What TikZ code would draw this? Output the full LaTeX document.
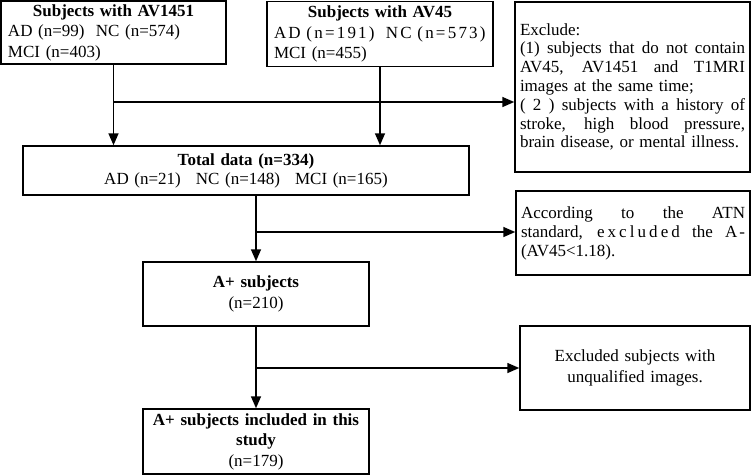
\documentclass[tikz,border=0pt]{standalone}
\usepackage{fontspec}
\setmainfont{Liberation Serif}
\newfontfamily\spacedA[LetterSpace=13]{Liberation Serif}
\newfontfamily\spacedB[LetterSpace=18]{Liberation Serif}
\usetikzlibrary{arrows.meta}
\newcommand\fullline[1]{{\spaceskip=0pt\xspaceskip=0pt\makebox[\linewidth][s]{#1}}}
\begin{document}
\begin{tikzpicture}[x=1pt,y=-1pt,
  box/.style={draw,line width=1.5pt,inner xsep=7pt,inner ysep=0pt,
    font=\fontsize{17}{20.5}\selectfont},
  arr/.style={line width=1.6pt,-{Triangle[length=12pt,width=10pt]}},
  ln/.style={line width=1.6pt}]
\useasboundingbox (0,0) rectangle (751,475);

\node[box,text width=211pt,minimum height=63pt,align=left] (av1451) at (113.5,32.5)
  {\makebox[\linewidth][c]{\bfseries Subjects with AV1451}\\AD (n=99)\ \ NC (n=574)\\MCI (n=403)};
\node[box,text width=212pt,minimum height=65pt,align=left] (av45) at (380,34)
  {\makebox[\linewidth][c]{\bfseries Subjects with AV45}\\{\spacedA AD (n=191)\ \ NC (n=573)}\\MCI (n=455)};
\node[box,inner xsep=5pt,text width=225pt,minimum height=170pt,align=left,
  font=\fontsize{17}{18.8}\selectfont] (excl) at (632.5,87)
  {Exclude:\\
   \fullline{(1) subjects that do not contain}\\
   \fullline{AV45, AV1451 and T1MRI}\\
   images at the same time;\\
   \fullline{( 2 ) subjects with a history of}\\
   \fullline{stroke, high blood pressure,}\\
   brain disease, or mental illness.};
\node[box,text width=432pt,minimum height=49pt,align=center,
  font=\fontsize{17}{19}\selectfont] (total) at (246,170.5)
  {{\bfseries Total data (n=334)}\\AD (n=21)\hspace{15pt}NC (n=148)\hspace{15pt}MCI (n=165)};
\node[box,inner xsep=5pt,text width=224pt,minimum height=84pt,align=left,
  font=\fontsize{17}{19}\selectfont] (atn) at (633,233)
  {\fullline{According to the ATN}\\
   \fullline{standard, {\spacedB excluded} the A\kern2pt-}\\
   (AV45<1.18).};
\node[box,text width=212pt,minimum height=64pt,align=center] (aplus) at (256,294)
  {{\bfseries A+ subjects}\\(n=210)};
\node[box,text width=216pt,minimum height=84pt,align=center,
  font=\fontsize{17}{21}\selectfont] (excl2) at (635,368)
  {Excluded subjects with\\unqualified images.};
\node[box,text width=212pt,minimum height=65pt,align=center] (final) at (256,441.5)
  {{\bfseries A+ subjects included in this\\study}\\(n=179)};

\coordinate (j1) at (113.5,102);
\coordinate (j2) at (256,232);
\coordinate (j3) at (256,368);

\draw[arr] (av1451.south) -- (av1451.south |- total.north);
\draw[arr] (j1) -- (j1 -| excl.west);
\draw[arr] (av45.south) -- (av45.south |- total.north);
\draw[arr] (aplus.north |- total.south) -- (aplus.north);
\draw[arr] (j2) -- (j2 -| atn.west);
\draw[arr] (aplus.south) -- (final.north);
\draw[arr] (j3) -- (j3 -| excl2.west);
\end{tikzpicture}
\end{document}
